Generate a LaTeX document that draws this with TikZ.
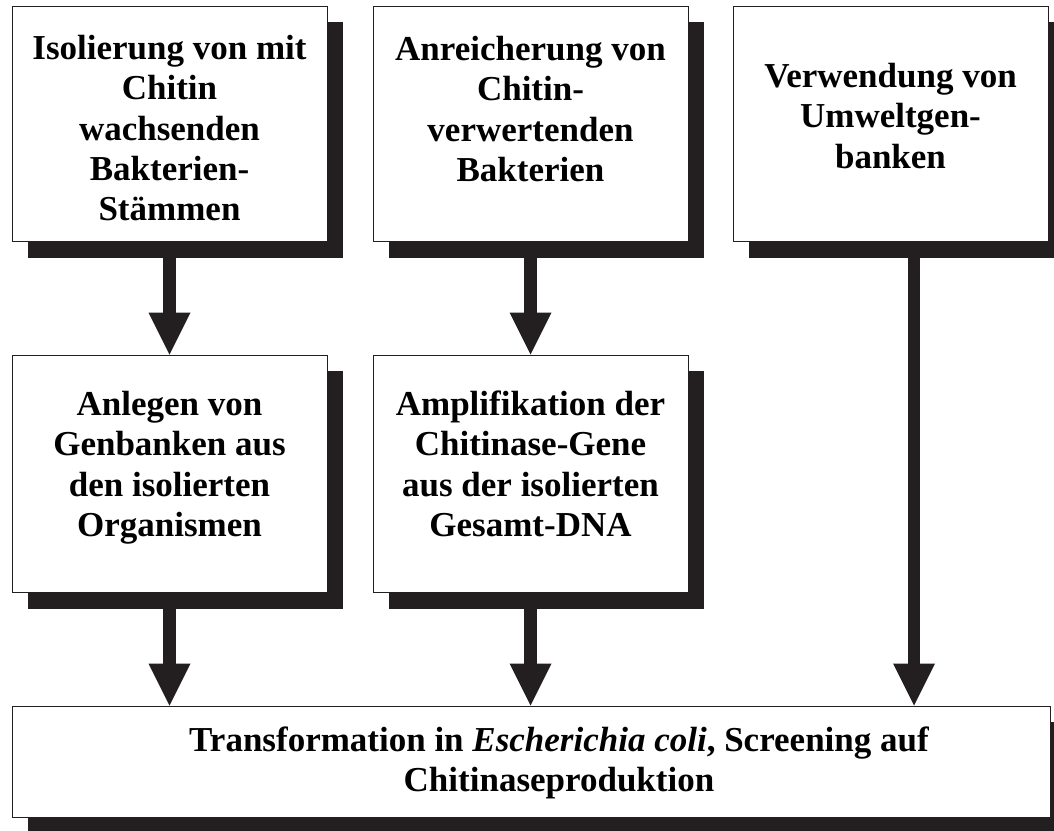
\documentclass[tikz,border=0pt]{standalone}
\usepackage{fontspec}
\setmainfont{Liberation Serif}
\usetikzlibrary{arrows.meta,shadows}
\definecolor{ink}{RGB}{35,31,32}
\newcommand{\flowtext}[4]{\parbox[c][#2][t]{#1}{\centering\vspace*{#3}\strut#4}}
\begin{document}
\begin{tikzpicture}[x=0.5pt,y=-0.5pt,
    stepbox/.style={draw=ink,line width=0.5pt,fill=white,inner sep=0pt,
      font=\bfseries\fontsize{17.5}{20.2}\selectfont,
      drop shadow={shadow xshift=8pt,shadow yshift=-8pt,opacity=1,fill=ink}},
    flow/.style={ink,line width=6.3pt,-{Triangle[width=21pt,length=21pt,line width=0pt]}}]
  \useasboundingbox (0,0) rectangle (1054,830);
  \node[stepbox] (isol) at (169.5,123.85)
    {\flowtext{157.5pt}{117.85pt}{12.5pt}{Isolierung von mit\\Chitin\\wachsenden\\Bakterien-\\Stämmen}};
  \node[stepbox] (anr) at (530.5,123.85)
    {\flowtext{157.5pt}{117.85pt}{13pt}{Anreicherung von\\Chitin-\\verwertenden\\Bakterien}};
  \node[stepbox] (umw) at (890.5,123.85)
    {\flowtext{157.5pt}{117.85pt}{26.5pt}{Verwendung von\\Umweltgen-\\banken}};
  \node[stepbox] (genb) at (169.5,473.85)
    {\flowtext{157.5pt}{118.85pt}{16pt}{Anlegen von\\Genbanken aus\\den isolierten\\Organismen}};
  \node[stepbox] (ampl) at (530.5,473.85)
    {\flowtext{157.5pt}{118.85pt}{16pt}{Amplifikation der\\Chitinase-Gene\\aus der isolierten\\Gesamt-DNA}};
  \node[stepbox] (transf) at (531,761.5)
    {\flowtext{519pt}{55.5pt}{8.5pt}{\hspace*{28pt}Transformation in \textit{Escherichia coli}, Screening auf\\\hspace*{28pt}Chitinaseproduktion}};
  \begin{scope}[flow]
    \draw (isol) -- (genb);
    \draw (anr) -- (ampl);
    \draw (genb) -- (genb |- transf.north);
    \draw (ampl) -- (ampl |- transf.north);
    \draw ([xshift=11.75pt]umw.south) -- ([xshift=11.75pt]umw.south |- transf.north);
  \end{scope}
\end{tikzpicture}
\end{document}
